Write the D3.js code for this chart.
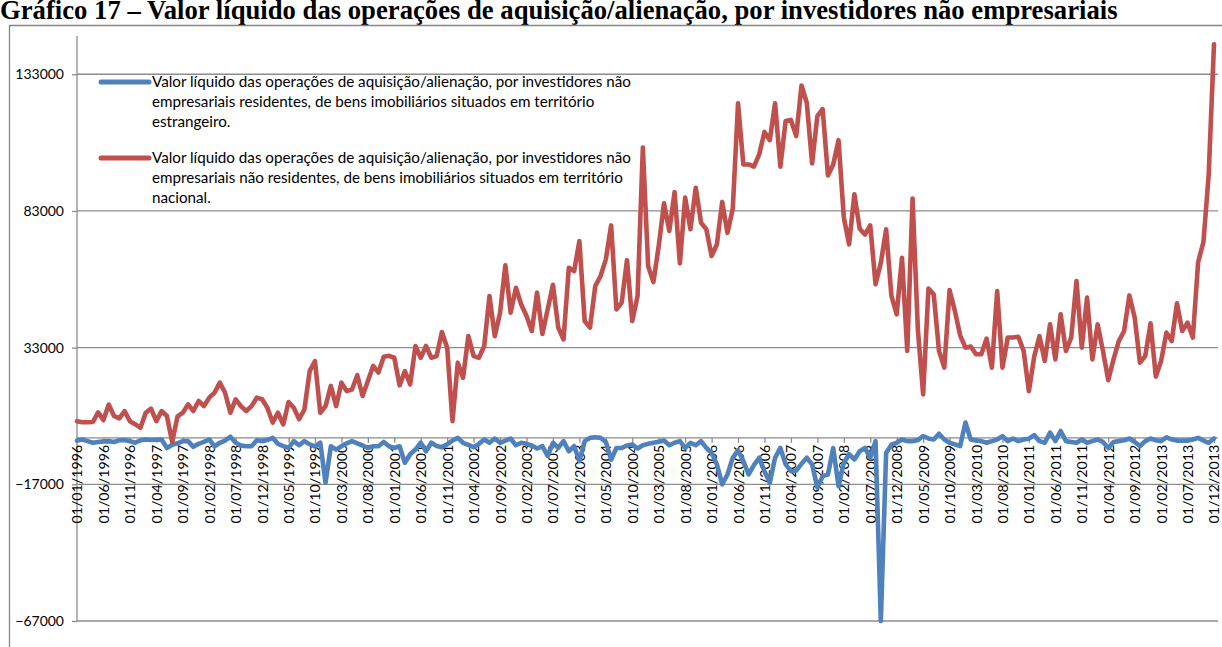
<!DOCTYPE html>
<html><head><meta charset="utf-8">
<script src="https://cdn.jsdelivr.net/npm/d3@7"></script>
<style>
body{margin:0;background:#fff;}
svg{display:block;}
</style></head>
<body>
<svg id="c" width="1222" height="647"></svg>
<script>
// ---- data ----
const titleText = "Gráfico 17 – Valor líquido das operações de aquisição/alienação, por investidores não empresariais";
const seriesNames = [
  ["Valor líquido das operações de aquisição/alienação, por investidores não",
   "empresariais residentes, de bens imobiliários situados em território",
   "estrangeiro."],
  ["Valor líquido das operações de aquisição/alienação, por investidores não",
   "empresariais não residentes, de bens imobiliários situados em território",
   "nacional."]
];
const yTicks = [-67000, -17000, 33000, 83000, 133000];

// monthly categories 01/01/1996 .. 01/12/2013
const categories = [];
for (let yr = 1996; yr <= 2013; yr++) for (let m = 1; m <= 12; m++)
  categories.push("01/" + String(m).padStart(2, "0") + "/" + yr);
const tickLabels = categories.filter((d, i) => i % 5 === 0);

// residentes (estrangeiro) - blue
const blueValues = [
  -1000,-600,-1200,-1800,-1500,-1300,-1200,-1500,-900,-800,-1200,-1800,
  -900,-600,-800,-700,-600,-3700,-2500,-2000,-1200,-1200,-3300,-2200,
  -1500,-600,-3100,-1800,-1000,400,-1800,-2800,-3100,-3100,-900,-1200,
  -800,0,-2200,-3000,-3700,-1200,-2700,-1200,-2400,-3100,-1800,-16400,
  -3100,-4300,-3100,-2000,-1200,-2000,-2800,-3700,-3100,-3100,-1500,-3100,
  -3700,-3100,-9100,-6000,-4300,-1800,-4900,-1800,-3000,-3400,-2400,-1000,
  0,-1800,-2600,-3400,-2200,-600,-1800,-250,-1800,-1000,-250,-2700,
  -1800,-2200,-2800,-3900,-3000,-6600,-1800,-3700,-1200,-4900,-3000,-8500,
  -1200,0,200,0,-1500,-8000,-3700,-3700,-2800,-2400,-3900,-2700,
  -2200,-1800,-1400,-1000,-2700,-1800,-1200,-3700,-1800,-2700,-1200,-3700,
  -5500,-9700,-17000,-13400,-7300,-4600,-8500,-13400,-10000,-7300,-12200,-16400,
  -7300,-3700,-9700,-12200,-12000,-9500,-7300,-9700,-18200,-14000,-13400,-3700,
  -17700,-9100,-6000,-7900,-4900,-3700,-7300,-1200,-67000,-5500,-2500,-1800,
  -600,-1200,-1200,-800,600,-200,-600,1500,-600,-1800,-2400,-3000,
  5600,-600,-1000,-1200,-1800,-1200,-600,600,-1200,-250,-1200,-600,
  -300,1000,-1200,-1800,1900,-1200,2500,-1200,-1500,-1800,-600,-1800,
  -1200,-600,-1500,-3700,-1500,-1200,-900,-250,-1500,-3000,-1200,-250,
  -900,-1200,200,-600,-1000,-1000,-1000,-600,0,-1000,-1800,-250
];
// não residentes (nacional) - red
const redValues = [
  6100,5700,5700,5800,9300,6500,12200,8000,7100,9800,6100,5000,
  3700,9200,10700,6100,9800,8000,-1500,7800,9200,12200,9800,13500,
  11600,14700,16500,20200,16500,9200,14100,11600,9800,11600,14700,14100,
  11000,5600,9200,4900,13100,11000,6800,10400,24400,28100,9200,11600,
  19000,11600,20200,17100,17700,22900,15300,20800,26300,23900,29700,30000,
  29300,19200,24400,19600,33600,29300,33600,29300,29900,38700,33000,6100,
  27500,22000,37200,29900,29300,33600,51900,37200,45800,63100,45800,54900,
  48800,44600,39100,53100,38000,47000,56000,40300,36000,62200,61000,72000,
  42700,40300,55500,59200,65300,77700,47000,49500,65000,42700,51900,106200,
  62800,57000,70200,85800,75700,89900,63800,87900,76300,91500,78700,76300,
  66500,70800,86300,75000,83800,122400,100000,100000,99200,103700,111900,108900,
  122400,99200,115900,116300,110400,128900,122600,100400,117700,120200,96000,100000,
  108900,80600,70800,89100,76500,74400,77700,56200,64000,76300,51900,45200,
  65900,31800,87500,39700,15900,54600,52500,31800,25700,54100,46400,37500,
  33000,33400,30600,30600,36300,25700,53700,25700,36700,36700,37000,31800,
  17100,29700,37200,28100,41500,28700,45200,31800,36700,57400,33000,51300,
  28700,41500,31800,21100,28700,35400,39100,52100,44000,27500,29900,41900,
  22400,28100,38500,35400,49200,39100,42100,36700,64300,71600,96400,144000
];
const colors = ["#4F81BD", "#C0504D"];

// ---- drawing ----
const svg = d3.select("#c");
const font = "Lato, 'Open Sans', sans-serif";
const plot = {left: 77, right: 1218, top: 36, bottom: 621};

// fit a text element's font size so its width matches a target
function fitWidth(sel, target) {
  const fs = parseFloat(sel.attr("font-size"));
  const w = sel.node().getComputedTextLength();
  sel.attr("font-size", (fs * target / w).toFixed(2));
}

const title = svg.append("text")
  .attr("x", 0).attr("y", 19)
  .attr("font-family", "'Liberation Serif', 'Times New Roman', serif")
  .attr("font-weight", "bold").attr("font-size", 24)
  .text(titleText);
fitWidth(title, 1118);

// outer chart border
svg.append("path")
  .attr("d", "M9.5,660 V25.5 H1230")
  .attr("fill", "none").attr("stroke", "#868686").attr("stroke-width", 1.3);

const x = d3.scalePoint().domain(categories).range([77, 1214]);
const y = d3.scaleLinear().domain([-67000, 147000]).range([plot.bottom, plot.top]);

// gridlines
svg.append("g").selectAll("line").data(yTicks).join("line")
  .attr("x1", plot.left).attr("x2", plot.right)
  .attr("y1", d => y(d)).attr("y2", d => y(d))
  .attr("stroke", "#8c8c8c").attr("stroke-width", 1.3);

// y axis
const yAxis = svg.append("g").attr("transform", `translate(${plot.left},0)`)
  .call(d3.axisLeft(y).tickValues(yTicks).tickSize(5).tickPadding(8).tickFormat(d3.format("d")));
yAxis.select(".domain").attr("stroke", "#8c8c8c").attr("stroke-width", 1.3)
  .attr("d", `M0,${plot.top}V${plot.bottom}`);
yAxis.selectAll(".tick line").attr("stroke", "#8c8c8c").attr("stroke-width", 1.3);
yAxis.selectAll("text").attr("font-family", font).attr("font-size", 14).attr("fill", "#000");

// x axis at zero
const xAxis = svg.append("g").attr("transform", `translate(0,${y(0)})`)
  .call(d3.axisBottom(x).tickValues(tickLabels).tickSize(5).tickSizeOuter(0));
xAxis.select(".domain").attr("stroke", "#8c8c8c").attr("stroke-width", 1.3)
  .attr("d", `M${plot.left},0H${plot.right}`);
xAxis.selectAll(".tick line").attr("stroke", "#8c8c8c").attr("stroke-width", 1.3);
xAxis.selectAll("text")
  .attr("font-family", font).attr("font-size", 14.2).attr("fill", "#000")
  .attr("transform", "rotate(-90)")
  .attr("text-anchor", "end").attr("x", -7).attr("y", 0).attr("dy", "0.35em");

// series lines
const line = d3.line().x((d, i) => x(categories[i])).y(d => y(d));
[blueValues, redValues].forEach((vals, k) => {
  svg.append("path").datum(vals)
    .attr("d", line).attr("fill", "none")
    .attr("stroke", colors[k]).attr("stroke-width", 4.6)
    .attr("stroke-linejoin", "round").attr("stroke-linecap", "round");
});

// legend
const legendY = [82, 158];
const lineGap = 19.6;
const probe = svg.append("text").attr("font-family", font).attr("font-size", 14).text(seriesNames[0][0]);
fitWidth(probe, 479);
const legendFs = probe.attr("font-size");
probe.remove();
seriesNames.forEach((lines, k) => {
  const g = svg.append("g");
  g.append("line").attr("x1", 101).attr("x2", 149)
    .attr("y1", legendY[k]).attr("y2", legendY[k])
    .attr("stroke", colors[k]).attr("stroke-width", 5).attr("stroke-linecap", "round");
  lines.forEach((t, j) => {
    g.append("text").attr("x", 152).attr("y", legendY[k] + j * lineGap)
      .attr("dy", "0.35em").attr("font-family", font).attr("font-size", legendFs)
      .attr("fill", "#000").text(t);
  });
});
</script>
</body></html>
